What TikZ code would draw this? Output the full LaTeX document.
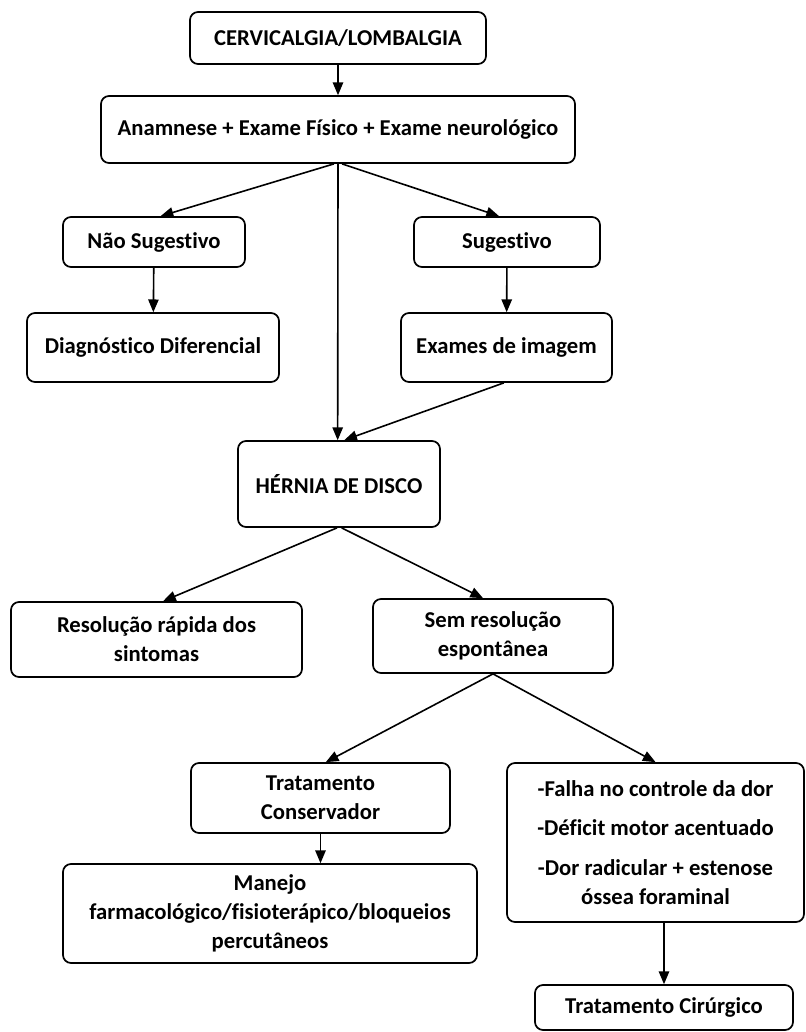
\documentclass[tikz,border=0pt]{standalone}
\usepackage{fontspec}
\setmainfont{Carlito}[Ligatures=NoCommon]
\usetikzlibrary{arrows}

\begin{document}
\begin{tikzpicture}[->,>=triangle 45,x=0.75pt,y=-0.75pt,line width=1.2pt,
  main node/.style={rectangle,rounded corners=6pt,draw,line width=1.3pt,align=center,
    font=\fontsize{17}{21.75}\selectfont\bfseries}]

  \useasboundingbox (0,0) rectangle (806,1032);

  \node[main node, minimum width=222pt, minimum height=39pt] (1) at (338,38) {CERVICALGIA/LOMBALGIA};
  \node[main node, minimum width=355.5pt, minimum height=50.25pt] (2) at (338,129.5) {Anamnese + Exame Físico + Exame neurológico};
  \node[main node, minimum width=136.5pt, minimum height=37.5pt] (3) at (154,242) {Não Sugestivo};
  \node[main node, minimum width=139.5pt, minimum height=37.5pt] (4) at (507,242) {Sugestivo};
  \node[main node, minimum width=189pt, minimum height=51.75pt] (5) at (153,347.5) {Diagnóstico Diferencial};
  \node[main node, minimum width=158.25pt, minimum height=51.75pt] (6) at (506.5,347.5) {Exames de imagem};
  \node[main node, minimum width=151.5pt, minimum height=64.5pt] (7) at (339,484) {HÉRNIA DE DISCO};
  \node[main node, minimum width=218.25pt, minimum height=56.25pt] (8) at (156.5,639.5) {Resolução rápida dos\\sintomas};
  \node[main node, minimum width=180pt, minimum height=55.5pt] (9) at (493,636) {Sem resolução\\espontânea};
  \node[main node, minimum width=194.25pt, minimum height=52.5pt] (10) at (320.5,798) {Tratamento\\Conservador};
  \node[main node, minimum width=310.5pt, minimum height=74.25pt] (11) at (270,913.5) {Manejo\\farmacológico/fisioterápico/bloqueios\\percutâneos};
  \node[main node, minimum width=222.75pt, minimum height=119.25pt] (12) at (655.5,842.5) {-Falha no controle da dor\\[8pt]-Déficit motor acentuado\\[8pt]-Dor radicular + estenose\\óssea foraminal};
  \node[main node, minimum width=193.5pt, minimum height=33.75pt] (13) at (664,1007.5) {Tratamento Cirúrgico};

  \path
    (1) edge (2)
    ([xshift=-3pt]2.south) edge ([xshift=5pt]3.north)
    ([xshift=3pt]2.south) edge ([xshift=-6pt]4.north)
    (2.south) edge ([xshift=-1pt]7.north)
    (3) edge (5)
    (4) edge (6)
    ([xshift=-2pt]6.south) edge ([xshift=4pt]7.north)
    ([xshift=-1.5pt]7.south) edge ([xshift=5pt]8.north)
    ([xshift=2pt]7.south) edge ([xshift=-7.5pt]9.north)
    (9.south) edge ([xshift=4pt]10.north)
    (9.south) edge (12.north)
    (10.south) edge (10.south |- 11.north)
    (13.north |- 12.south) edge (13.north);
\end{tikzpicture}
\end{document}
